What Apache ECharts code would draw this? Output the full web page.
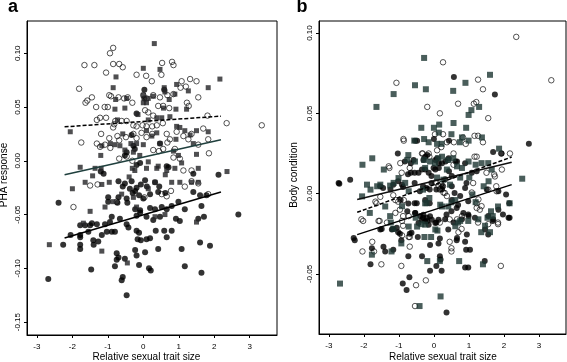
<!DOCTYPE html>
<html><head><meta charset="utf-8">
<script src="https://cdn.jsdelivr.net/npm/echarts@6/dist/echarts.min.js"></script>
<style>html,body{margin:0;padding:0;background:#fff}#c{width:567px;height:362px}</style>
</head><body><div id="c"></div>
<script>
const xTicks = [-3,-2,-1,0,1,2,3];
const yTicksA = [-0.15,-0.10,-0.05,0.00,0.05,0.10];
const yTicksB = [-0.05,0.00,0.05,0.10];

const openA = [[-0.85,0.105],[-0.94,0.100],[-1.66,0.089],[-1.38,0.089],[-0.85,0.090],[-0.68,0.090],[-0.58,0.087],[-1.05,0.082],[-0.19,0.080],[0.08,0.079],[0.51,0.080],[0.53,0.091],[0.81,0.092],[0.85,0.089],[-1.81,0.067],[0.24,0.074],[1.08,0.074],[1.32,0.076],[1.50,0.074],[1.05,0.068],[1.20,0.069],[-1.63,0.054],[-1.58,0.056],[-1.45,0.059],[-1.33,0.050],[-1.09,0.050],[-1.00,0.050],[-0.96,0.061],[-0.91,0.060],[-0.70,0.059],[-0.54,0.058],[-0.44,0.059],[-0.31,0.054],[0.0,0.061],[0.09,0.058],[0.28,0.061],[0.47,0.059],[0.68,0.061],[0.85,0.062],[0.42,0.051],[0.56,0.051],[0.73,0.049],[1.23,0.054],[1.28,0.051],[1.55,0.059],[0.05,0.047],[0.14,0.045],[0.28,0.042],[-1.31,0.038],[-1.22,0.040],[-1.05,0.040],[-0.79,0.037],[-0.61,0.037],[-0.47,0.037],[-0.28,0.033],[-0.19,0.032],[-0.02,0.033],[0.09,0.032],[0.25,0.032],[0.38,0.033],[0.55,0.035],[-0.85,0.031],[-0.82,0.034],[1.81,0.042],[1.69,0.030],[2.35,0.035],[3.34,0.033],[-1.75,0.017],[-1.19,0.025],[-1.31,0.016],[-1.22,0.013],[-0.96,0.021],[-1.08,0.015],[-0.93,0.012],[-0.73,0.023],[-0.68,0.019],[-0.49,0.022],[-0.28,0.025],[-0.19,0.021],[-0.05,0.026],[0.09,0.022],[0.25,0.025],[0.66,0.025],[0.75,0.020],[0.94,0.027],[1.13,0.023],[1.36,0.025],[0.56,0.011],[0.68,0.017],[0.89,0.011],[0.28,0.010],[0.44,0.009],[1.27,0.020],[1.55,0.015],[1.83,0.020],[1.85,0.007],[-0.68,0.002],[-0.47,0.004],[-0.31,0.000],[0.85,0.003],[1.03,0.002],[1.13,-0.009],[1.36,-0.009],[-1.97,-0.043],[-1.50,-0.023],[-1.29,-0.022],[-0.75,-0.038],[0.03,-0.034],[0.52,-0.031],[0.66,-0.033],[0.78,-0.028],[1.17,-0.024],[1.83,-0.031],[1.36,-0.019],[1.55,-0.021]];

const squareA = [[0.31,0.109],[0.0,0.086],[0.47,0.085],[-0.77,0.078],[2.16,0.076],[-0.85,0.068],[1.27,0.065],[1.83,0.068],[0.59,0.068],[0.94,0.071],[0.61,0.064],[0.89,0.062],[0.0,0.061],[0.14,0.058],[0.28,0.060],[-0.78,0.057],[-0.47,0.058],[0.73,0.057],[0.0,0.054],[0.09,0.054],[-0.80,0.048],[-0.52,0.049],[0.57,0.049],[0.92,0.048],[1.22,0.048],[-0.15,0.043],[-0.73,0.038],[0.38,0.040],[0.52,0.040],[0.75,0.041],[0.14,0.038],[-2.06,0.027],[-0.58,0.025],[0.09,0.028],[0.38,0.026],[0.24,0.023],[0.94,0.032],[1.03,0.031],[1.17,0.028],[1.32,0.024],[1.50,0.028],[1.83,0.027],[-0.93,0.016],[-0.80,0.015],[-0.66,0.014],[-0.35,0.016],[-0.19,0.016],[0.0,0.015],[0.47,0.016],[0.92,0.020],[1.41,0.016],[-1.20,0.005],[-1.17,0.014],[-0.52,0.010],[-0.28,0.008],[-0.10,0.005],[0.85,0.009],[0.99,0.005],[1.50,0.006],[0.14,-0.001],[0.42,-0.005],[-1.78,-0.006],[-1.36,-0.007],[-1.19,-0.007],[-0.31,-0.007],[-0.24,-0.009],[0.09,-0.007],[0.38,-0.007],[0.66,-0.009],[0.89,-0.007],[1.08,-0.002],[1.55,-0.007],[2.36,-0.010],[-1.43,-0.014],[-0.40,-0.015],[0.62,-0.013],[-2.0,-0.026],[-1.64,-0.020],[-1.17,-0.022],[-0.96,-0.020],[-0.61,-0.031],[-0.85,-0.038],[-1.08,-0.043],[-0.28,-0.034],[-0.19,-0.043],[0.14,-0.026],[0.33,-0.020],[0.80,-0.020],[1.03,-0.020],[1.36,-0.020],[1.55,-0.020],[-1.50,-0.047],[-1.69,-0.058],[0.33,-0.052],[-2.65,-0.078],[-1.17,-0.084],[-0.45,-0.095],[1.50,-0.057],[0.61,-0.050]];

const filledA = [[0.03,0.066],[0.59,0.066],[0.03,0.058],[-0.19,0.044],[-0.33,0.024],[0.47,0.016],[-0.47,0.008],[-0.52,0.005],[-0.28,0.014],[-0.24,0.011],[-0.09,-0.002],[-0.19,-0.004],[0.66,-0.005],[0.71,-0.006],[1.41,-0.012],[2.12,-0.013],[-1.12,-0.012],[-1.20,-0.010],[-0.70,-0.019],[-0.58,-0.024],[-0.52,-0.021],[-0.38,-0.026],[-0.23,-0.028],[-0.19,-0.025],[0.05,-0.018],[0.33,-0.020],[0.19,-0.031],[0.42,-0.029],[-0.70,-0.034],[-0.47,-0.035],[0.0,-0.035],[-0.73,-0.039],[-0.45,-0.039],[-2.39,-0.039],[-0.99,-0.034],[-0.99,-0.038],[-0.23,-0.045],[-0.09,-0.046],[0.19,-0.044],[0.33,-0.045],[0.52,-0.043],[0.66,-0.045],[0.80,-0.042],[0.99,-0.038],[1.41,-0.029],[1.60,-0.032],[1.78,-0.032],[1.64,-0.042],[2.68,-0.050],[-1.78,-0.060],[-1.64,-0.060],[-1.50,-0.060],[-1.45,-0.058],[-1.31,-0.059],[-1.08,-0.059],[-0.94,-0.057],[-0.66,-0.054],[-0.89,-0.052],[-0.47,-0.059],[-0.42,-0.062],[-0.19,-0.051],[-0.09,-0.048],[0.09,-0.052],[0.28,-0.055],[0.47,-0.052],[0.92,-0.054],[1.03,-0.056],[1.17,-0.045],[1.55,-0.054],[1.71,-0.052],[-2.05,-0.069],[-1.78,-0.069],[-1.78,-0.071],[-1.55,-0.066],[-1.41,-0.074],[-1.27,-0.075],[-1.17,-0.069],[-1.03,-0.066],[-0.89,-0.066],[-0.80,-0.066],[-0.19,-0.065],[-0.12,-0.067],[0.35,-0.065],[0.59,-0.065],[0.80,-0.065],[-0.16,-0.073],[-0.07,-0.074],[0.09,-0.073],[0.19,-0.072],[0.66,-0.071],[-2.26,-0.078],[-1.78,-0.078],[-1.40,-0.078],[1.60,-0.076],[1.88,-0.079],[-1.78,-0.082],[-0.75,-0.086],[-0.70,-0.090],[-0.75,-0.092],[-0.52,-0.091],[-0.23,-0.083],[-0.19,-0.088],[0.05,-0.085],[0.42,-0.082],[1.08,-0.082],[-0.80,-0.098],[-0.12,-0.097],[0.16,-0.100],[0.21,-0.102],[1.17,-0.098],[-1.47,-0.101],[1.64,-0.104],[-2.68,-0.110],[-0.58,-0.108],[-0.61,-0.111],[-0.47,-0.125],[-0.33,-0.019],[-0.07,-0.022],[-0.30,-0.030],[-0.12,-0.032],[0.10,-0.024],[0.62,-0.030],[0.45,-0.024]];

const openB = [[2.35,0.0976],[3.35,0.0706],[0.26,0.0818],[-1.07,0.069],[1.26,0.071],[1.40,0.065],[-0.19,0.054],[0.69,0.056],[1.14,0.056],[1.21,0.057],[0.17,0.050],[1.55,0.047],[-0.87,0.034],[-0.86,0.033],[0.03,0.037],[0.26,0.037],[1.16,0.036],[1.26,0.036],[1.40,0.032],[0.57,0.032],[0.83,0.035],[0.91,0.031],[-1.27,0.016],[-0.96,0.019],[-0.32,0.025],[-0.13,0.023],[0.09,0.027],[0.21,0.029],[0.37,0.032],[0.40,0.021],[0.56,0.018],[1.16,0.023],[1.92,0.025],[1.94,0.015],[-0.92,0.013],[-0.69,0.016],[1.50,0.013],[1.72,0.012],[-2.04,-0.036],[-1.71,-0.036],[-2.02,-0.017],[-1.76,-0.030],[-1.55,-0.017],[-1.50,-0.044],[-1.64,-0.006],[-1.16,-0.001],[-1.02,-0.005],[-0.97,-0.010],[-0.88,-0.014],[-0.88,-0.020],[-0.93,-0.045],[-0.69,-0.027],[-0.69,-0.033],[-0.51,-0.057],[-0.23,-0.054],[-0.54,-0.070],[0.17,0.0025],[0.31,0.0004],[0.26,0.0046],[0.07,0.007],[0.21,0.006],[0.45,-0.030],[0.50,-0.034],[0.50,-0.036],[0.17,-0.018],[0.45,-0.016],[0.79,-0.022],[1.26,-0.018],[1.31,-0.010],[1.22,-0.006],[1.55,-0.019],[1.83,-0.018],[1.91,-0.045],[1.55,0.0025],[1.78,0.0046],[1.12,0.0066],[-0.34,0.025],[-0.15,0.025],[0.56,0.025],[1.22,0.023],[2.17,0.025],[-1.29,0.017],[-1.67,-0.005],[-1.53,-0.002],[-1.10,-0.004],[-0.86,-0.004],[0.18,0.003],[0.27,0.0007],[0.37,-0.0015],[0.04,0.007],[0.13,0.005],[1.08,0.0007],[1.27,-0.0036],[1.36,-0.0078],[1.22,-0.0089],[1.74,0.0107],[1.79,0.0015],[-2.07,-0.016],[-1.58,-0.017],[-1.34,-0.018],[-1.10,-0.012],[-0.91,-0.017],[-0.72,-0.014],[0.66,-0.016],[0.80,-0.014],[1.83,-0.019],[-0.91,-0.026],[-0.72,-0.027],[0.70,-0.024]];

const squareB = [[-0.28,0.0845],[-0.54,0.0675],[-0.23,0.065],[0.55,0.064],[0.90,0.069],[1.60,0.074],[-1.15,0.062],[-1.64,0.054],[1.07,0.052],[1.29,0.054],[0.99,0.049],[-0.36,0.041],[0.0,0.041],[0.15,0.043],[0.56,0.044],[0.92,0.041],[0.14,0.038],[0.50,0.037],[-0.56,0.033],[-0.28,0.034],[-0.15,0.032],[0.22,0.031],[0.74,0.032],[0.99,0.033],[1.86,0.028],[-2.04,0.018],[-1.76,0.022],[-1.43,0.015],[-0.73,0.024],[-0.76,0.021],[-0.54,0.020],[-0.28,0.021],[-0.11,0.020],[0.03,0.019],[0.12,0.022],[0.41,0.021],[0.55,0.022],[0.80,0.016],[0.99,0.020],[1.19,0.018],[1.36,0.019],[1.55,0.019],[-1.01,0.0097],[2.52,0.0093],[0.80,0.035],[0.09,0.031],[1.37,0.035],[-0.25,0.016],[0.23,0.023],[0.37,0.015],[0.66,0.017],[1.65,0.015],[-1.91,0.0056],[-1.62,0.0046],[-1.53,0.0056],[-1.81,0.0025],[-1.15,0.0067],[-0.82,0.0067],[-0.72,0.0015],[0.09,0.010],[0.27,0.0087],[0.75,0.010],[1.01,0.010],[1.56,0.0077],[-2.68,-0.056],[-2.05,-0.0017],[-1.83,-0.012],[-1.25,0.005],[-1.39,-0.008],[-1.25,-0.014],[-1.23,-0.018],[-1.16,-0.022],[-0.93,-0.031],[-1.21,-0.036],[-1.77,-0.038],[-0.31,0.0025],[-0.13,-0.0027],[-0.21,-0.0059],[-0.52,-0.015],[-0.36,-0.019],[0.18,-0.0069],[0.41,-0.008],[0.50,-0.0054],[0.46,0.0056],[-0.27,-0.027],[-0.08,-0.027],[0.10,-0.023],[0.69,-0.018],[0.98,-0.017],[1.10,-0.0005],[1.19,-0.0053],[1.42,0.0046],[1.68,-0.014],[1.63,-0.011],[1.83,-0.008],[2.16,-0.006],[1.53,-0.015],[1.60,-0.024],[1.35,-0.024],[1.40,-0.044],[-0.19,-0.042],[0.17,-0.042],[0.72,-0.042],[0.19,-0.064],[-0.41,-0.070],[-0.91,-0.0078],[-0.25,-0.006],[0.23,-0.008],[0.61,-0.004],[-0.72,-0.0205],[-0.48,-0.0205],[-0.25,-0.0193],[0.04,-0.0223],[0.61,-0.0203],[0.75,-0.017],[1.27,-0.016],[1.46,-0.020]];

const filledB = [[0.57,0.0727],[1.74,0.0617],[-0.48,0.033],[-0.54,0.033],[0.0,0.034],[0.43,0.033],[2.71,0.031],[1.69,0.026],[-1.03,0.025],[-0.83,0.020],[-0.66,0.019],[-0.30,0.021],[-0.19,0.024],[0.09,0.022],[0.14,0.019],[0.33,0.020],[0.62,0.020],[-0.66,0.013],[-0.44,0.013],[-0.34,0.015],[-0.15,0.013],[-0.01,0.016],[0.14,0.016],[0.43,0.014],[1.22,0.014],[-2.39,0.0087],[-2.72,0.0066],[-0.58,0.021],[-0.25,0.023],[0.04,0.021],[0.23,0.019],[0.42,0.022],[0.66,0.020],[0.89,0.019],[-0.74,0.012],[-0.55,0.013],[-0.25,0.015],[-0.07,0.011],[0.04,0.015],[0.32,0.009],[0.51,0.011],[1.08,0.013],[1.93,0.025],[-1.53,0.0046],[-1.24,0.0025],[-0.91,0.0056],[-0.55,0.0066],[-0.31,0.0046],[-0.12,0.0025],[0.23,0.0025],[0.51,0.0046],[0.89,0.0035],[1.51,0.0025],[1.84,0.0015],[-0.95,-0.004],[-0.55,-0.006],[-0.25,-0.004],[-0.12,-0.006],[0.51,-0.004],[0.75,-0.0015],[0.98,-0.0048],[2.06,-0.0006],[2.15,-0.006],[-0.53,-0.012],[-0.39,-0.0139],[-0.30,-0.0131],[-0.20,-0.015],[-0.11,-0.0141],[-0.25,-0.0173],[-0.06,-0.0162],[0.04,-0.0183],[-0.34,-0.0162],[-0.44,-0.0183],[-0.15,-0.0193],[0.13,-0.0162],[0.32,-0.016],[0.56,-0.018],[0.80,-0.016],[0.99,-0.014],[1.55,-0.014],[1.69,-0.016],[1.84,-0.010],[2.13,-0.015],[-2.29,-0.0276],[-1.53,-0.0223],[-1.20,-0.0223],[-1.06,-0.0213],[-0.64,-0.0244],[0.41,-0.0223],[0.66,-0.0276],[0.94,-0.0255],[1.55,-0.0255],[1.46,-0.0223],[-2.70,0.0062],[-1.45,0.0035],[-1.16,0.0056],[-1.02,0.0077],[-0.88,0.0042],[-0.40,0.0015],[-0.73,-0.0062],[-0.49,-0.006],[-0.21,0.0035],[-0.07,0.0066],[0.07,0.0025],[0.24,0.0046],[0.59,0.0004],[0.93,0.0066],[0.65,-0.009],[0.84,-0.012],[0.98,-0.013],[-0.54,-0.012],[-0.31,-0.015],[-0.19,-0.017],[0.07,-0.018],[-0.76,-0.011],[0.36,-0.013],[0.50,-0.011],[0.69,-0.007],[1.17,-0.015],[1.68,-0.017],[1.97,-0.013],[2.16,-0.015],[-1.49,-0.022],[-1.16,-0.022],[-1.02,-0.024],[-2.26,-0.029],[-1.77,-0.034],[-1.44,-0.033],[-1.39,-0.036],[-1.16,-0.035],[-0.97,-0.025],[-0.93,-0.029],[-0.69,-0.025],[-0.46,-0.027],[-0.11,-0.032],[0.13,-0.031],[0.17,-0.028],[0.65,-0.029],[0.89,-0.030],[0.92,-0.035],[1.03,-0.035],[-0.73,-0.039],[-0.34,-0.039],[0.17,-0.039],[0.19,-0.041],[-1.81,-0.044],[-0.11,-0.048],[0.07,-0.045],[0.22,-0.048],[0.89,-0.046],[0.98,-0.046],[1.45,-0.042],[-0.70,-0.052],[-0.89,-0.056],[-0.78,-0.060],[0.36,-0.074]];

// regression lines (endpoints)
const lineAOpen = [[-2.22,0.0316],[2.19,0.0415]];
const lineASquare = [[-2.22,-0.013],[2.19,0.0195]];
const lineAFilled = [[-2.22,-0.0718],[2.19,-0.0291]];
const lineBSquare = [[-2.19,-0.0037],[2.22,0.0195]];
const lineBOpen = [[-2.19,-0.0116],[2.22,0.0228]];
const lineBFilled = [[-2.19,-0.0255],[2.22,0.0056]];

const FONT = 'Liberation Sans, Arial, Helvetica, sans-serif';

function xAxisCfg(i){
  return {gridIndex:i,type:'value',min:-3.28,max:3.77,position:'bottom',
    splitLine:{show:false},axisLine:{show:true,onZero:false,lineStyle:{color:'#000',width:1}},
    axisTick:{show:true,inside:false,length:3,customValues:xTicks,lineStyle:{color:'#000',width:1}},
    axisLabel:{customValues:xTicks,fontSize:8,fontFamily:FONT,color:'#000',margin:8,formatter:v=>String(v)}};
}
function yAxisCfg(i,min,max,ticks){
  return {gridIndex:i,type:'value',min:min,max:max,position:'left',
    splitLine:{show:false},axisLine:{show:true,onZero:false,lineStyle:{color:'#000',width:1}},
    axisTick:{show:true,inside:false,length:3,customValues:ticks,lineStyle:{color:'#000',width:1}},
    axisLabel:{customValues:ticks,rotate:90,fontSize:8,fontFamily:FONT,color:'#000',margin:5,formatter:v=>v.toFixed(2)}};
}
function openSeries(data,i){
  return {type:'scatter',xAxisIndex:i,yAxisIndex:i,data:data,symbol:'circle',symbolSize:5.5,
    itemStyle:{color:'rgba(255,255,255,0)',borderColor:'#111',borderWidth:0.9},silent:true};
}
function filledSeries(data,i){
  return {type:'scatter',xAxisIndex:i,yAxisIndex:i,data:data,symbol:'circle',symbolSize:6,
    itemStyle:{color:'#000'},silent:true};
}
function squareSeries(data,i,color,size){
  return {type:'scatter',xAxisIndex:i,yAxisIndex:i,data:data,symbol:'rect',symbolSize:size,
    itemStyle:{color:color},silent:true};
}
function lineSeries(data,i,color,dashed){
  return {type:'line',xAxisIndex:i,yAxisIndex:i,data:data,symbol:'none',silent:true,
    lineStyle:{color:color,width:1.5,type:dashed?[4,2]:'solid'},z:5};
}

const chart = echarts.init(document.getElementById('c'),null,{renderer:'canvas'});
chart.setOption({
  animation:false,
  backgroundColor:'#fff',
  grid:[
    {left:27,top:21,width:250,height:314,show:true,borderColor:'#000',borderWidth:1,backgroundColor:'transparent'},
    {left:319,top:21,width:247,height:313,show:true,borderColor:'#000',borderWidth:1,backgroundColor:'transparent'}
  ],
  xAxis:[xAxisCfg(0),xAxisCfg(1)],
  yAxis:[yAxisCfg(0,-0.162,0.130,yTicksA),yAxisCfg(1,-0.0874,0.1075,yTicksB)],
  graphic:[
    {type:'text',x:13,y:7.5,style:{text:'a',font:'bold 18px '+FONT,fill:'#000',textAlign:'center',textVerticalAlign:'middle'}},
    {type:'text',x:302,y:7.5,style:{text:'b',font:'bold 18px '+FONT,fill:'#000',textAlign:'center',textVerticalAlign:'middle'}},
    {type:'text',x:146.5,y:357,style:{text:'Relative sexual trait size',font:'10px '+FONT,fill:'#000',textAlign:'center',textVerticalAlign:'middle'}},
    {type:'text',x:443,y:357,style:{text:'Relative sexual trait size',font:'10px '+FONT,fill:'#000',textAlign:'center',textVerticalAlign:'middle'}},
    {type:'text',x:4.5,y:175,rotation:Math.PI/2,style:{text:'PHA response',font:'10px '+FONT,fill:'#000',textAlign:'center',textVerticalAlign:'middle'}},
    {type:'text',x:294,y:175,rotation:Math.PI/2,style:{text:'Body condition',font:'10px '+FONT,fill:'#000',textAlign:'center',textVerticalAlign:'middle'}}
  ],
  series:[
    openSeries(openA,0),
    filledSeries(filledA,0),
    squareSeries(squareA,0,'#232326',5),
    lineSeries(lineAOpen,0,'#000',true),
    lineSeries(lineASquare,0,'#1f3f3d',false),
    lineSeries(lineAFilled,0,'#000',false),
    openSeries(openB,1),
    filledSeries(filledB,1),
    squareSeries(squareB,1,'#1d3632',6),
    lineSeries(lineBSquare,1,'#111',false),
    lineSeries(lineBOpen,1,'#000',true),
    lineSeries(lineBFilled,1,'#000',false)
  ]
});
</script></body></html>
